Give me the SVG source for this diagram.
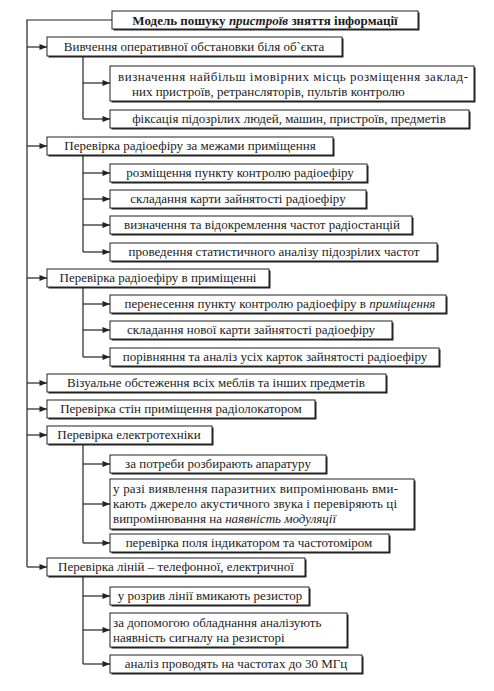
<svg xmlns="http://www.w3.org/2000/svg" width="494" height="691" viewBox="0 0 494 691">
<style>
.sh{fill:#222}
.bx{fill:#fff;stroke:#222;stroke-width:1}
.t{font-family:"Liberation Serif","Times New Roman",serif;font-size:13px;fill:#1c1c1c}
.c{text-anchor:middle}
.b{font-weight:bold}
.i{font-style:italic}
.ln{fill:none;stroke:#222;stroke-width:1.2}
</style>
<defs>
<marker id="ah" viewBox="0 0 10 8" refX="10" refY="4" markerWidth="9" markerHeight="6" markerUnits="userSpaceOnUse" orient="auto">
<path d="M0,0 L10,4 L0,8 Z" fill="#222"/>
</marker>
</defs>
<rect width="494" height="691" fill="#fff"/>
<g id="connectors">
<path class="ln" d="M112,20 H27 V567"/>
<path class="ln" d="M27,47 H47" marker-end="url(#ah)"/>
<path class="ln" d="M27,146 H47" marker-end="url(#ah)"/>
<path class="ln" d="M27,278 H47" marker-end="url(#ah)"/>
<path class="ln" d="M27,383 H47" marker-end="url(#ah)"/>
<path class="ln" d="M27,409 H47" marker-end="url(#ah)"/>
<path class="ln" d="M27,435 H47" marker-end="url(#ah)"/>
<path class="ln" d="M27,567 H47" marker-end="url(#ah)"/>
<path class="ln" d="M83,56 V119"/>
<path class="ln" d="M83,83 H110" marker-end="url(#ah)"/>
<path class="ln" d="M83,119 H110" marker-end="url(#ah)"/>
<path class="ln" d="M83,156 V252"/>
<path class="ln" d="M83,173 H110" marker-end="url(#ah)"/>
<path class="ln" d="M83,199 H110" marker-end="url(#ah)"/>
<path class="ln" d="M83,225 H110" marker-end="url(#ah)"/>
<path class="ln" d="M83,252 H110" marker-end="url(#ah)"/>
<path class="ln" d="M83,288 V357"/>
<path class="ln" d="M83,304 H110" marker-end="url(#ah)"/>
<path class="ln" d="M83,330 H110" marker-end="url(#ah)"/>
<path class="ln" d="M83,357 H110" marker-end="url(#ah)"/>
<path class="ln" d="M83,445 V543"/>
<path class="ln" d="M83,464 H110" marker-end="url(#ah)"/>
<path class="ln" d="M83,504 H110" marker-end="url(#ah)"/>
<path class="ln" d="M83,543 H110" marker-end="url(#ah)"/>
<path class="ln" d="M83,577 V664"/>
<path class="ln" d="M83,596 H110" marker-end="url(#ah)"/>
<path class="ln" d="M83,630 H110" marker-end="url(#ah)"/>
<path class="ln" d="M83,664 H110" marker-end="url(#ah)"/>
</g>
<g id="title">
<rect class="sh" x="113.5" y="12.5" width="306" height="18"/>
<rect class="bx" x="112" y="11" width="306" height="18"/>
<text class="t c b" x="265" y="25">Модель пошуку <tspan class="i">пристроїв</tspan> зняття інформації</text>
</g>
<g id="n1">
<rect class="sh" x="48.5" y="38.5" width="295" height="19"/>
<rect class="bx" x="47" y="37" width="295" height="19"/>
<text class="t c" x="194" y="51">Вивчення оперативної обстановки біля об`єкта</text>
</g>
<g id="n1a">
<rect class="sh" x="111.5" y="67.5" width="364" height="35"/>
<rect class="bx" x="110" y="66" width="364" height="35"/>
<text class="t" x="118" y="81" textLength="350" lengthAdjust="spacing">визначення найбільш імовірних місць розміщення заклад-</text>
<text class="t" x="132" y="96">них пристроїв, ретрансляторів, пультів контролю</text>
</g>
<g id="n1b">
<rect class="sh" x="111.5" y="111.5" width="359" height="18"/>
<rect class="bx" x="110" y="110" width="359" height="18"/>
<text class="t c" x="289" y="123">фіксація підозрілих людей, машин, пристроїв, предметів</text>
</g>
<g id="n2">
<rect class="sh" x="48.5" y="138.5" width="286" height="18"/>
<rect class="bx" x="47" y="137" width="286" height="18"/>
<text class="t c" x="190" y="150">Перевірка радіоефіру за межами приміщення</text>
</g>
<g id="n2a">
<rect class="sh" x="111.5" y="165.5" width="257" height="18"/>
<rect class="bx" x="110" y="164" width="257" height="18"/>
<text class="t c" x="240" y="177">розміщення пункту контролю радіоефіру</text>
</g>
<g id="n2b">
<rect class="sh" x="111.5" y="191.5" width="256" height="18"/>
<rect class="bx" x="110" y="190" width="256" height="18"/>
<text class="t c" x="238" y="203">складання карти зайнятості радіоефіру</text>
</g>
<g id="n2c">
<rect class="sh" x="111.5" y="217.5" width="302" height="18"/>
<rect class="bx" x="110" y="216" width="302" height="18"/>
<text class="t c" x="262" y="229">визначення та відокремлення частот радіостанцій</text>
</g>
<g id="n2d">
<rect class="sh" x="111.5" y="244.5" width="327" height="18"/>
<rect class="bx" x="110" y="243" width="327" height="18"/>
<text class="t c" x="274" y="256">проведення статистичного аналізу підозрілих частот</text>
</g>
<g id="n3">
<rect class="sh" x="48.5" y="270.5" width="222" height="18"/>
<rect class="bx" x="47" y="269" width="222" height="18"/>
<text class="t c" x="158" y="282">Перевірка радіоефіру в приміщенні</text>
</g>
<g id="n3a">
<rect class="sh" x="111.5" y="296.5" width="336" height="18"/>
<rect class="bx" x="110" y="295" width="336" height="18"/>
<text class="t c" x="280" y="308">перенесення пункту контролю радіоефіру в <tspan class="i">приміщення</tspan></text>
</g>
<g id="n3b">
<rect class="sh" x="111.5" y="322.5" width="282" height="18"/>
<rect class="bx" x="110" y="321" width="282" height="18"/>
<text class="t c" x="251" y="334">складання нової карти зайнятості радіоефіру</text>
</g>
<g id="n3c">
<rect class="sh" x="111.5" y="349.5" width="329" height="18"/>
<rect class="bx" x="110" y="348" width="329" height="18"/>
<text class="t c" x="275" y="361">порівняння та аналіз усіх карток зайнятості радіоефіру</text>
</g>
<g id="n4">
<rect class="sh" x="48.5" y="375.5" width="339" height="18"/>
<rect class="bx" x="47" y="374" width="339" height="18"/>
<text class="t c" x="216" y="387">Візуальне обстеження всіх меблів та інших предметів</text>
</g>
<g id="n5">
<rect class="sh" x="48.5" y="401.5" width="268" height="18"/>
<rect class="bx" x="47" y="400" width="268" height="18"/>
<text class="t c" x="181" y="413">Перевірка стін приміщення радіолокатором</text>
</g>
<g id="n6">
<rect class="sh" x="48.5" y="427.5" width="165" height="18"/>
<rect class="bx" x="47" y="426" width="165" height="18"/>
<text class="t c" x="129" y="439">Перевірка електротехніки</text>
</g>
<g id="n6a">
<rect class="sh" x="111.5" y="456.5" width="216" height="18"/>
<rect class="bx" x="110" y="455" width="216" height="18"/>
<text class="t c" x="218" y="468">за потреби розбирають апаратуру</text>
</g>
<g id="n6b">
<rect class="sh" x="111.5" y="480.5" width="304" height="50"/>
<rect class="bx" x="110" y="479" width="304" height="50"/>
<text class="t" x="113" y="493" textLength="285" lengthAdjust="spacing">у разі виявлення паразитних випромінювань вми-</text>
<text class="t" x="113" y="508" textLength="284" lengthAdjust="spacing">кають джерело акустичного звука і перевіряють ці</text>
<text class="t" x="113" y="523">випромінювання на <tspan class="i">наявність модуляції</tspan></text>
</g>
<g id="n6c">
<rect class="sh" x="111.5" y="535.5" width="279" height="18"/>
<rect class="bx" x="110" y="534" width="279" height="18"/>
<text class="t c" x="249" y="547">перевірка поля індикатором та частотоміром</text>
</g>
<g id="n7">
<rect class="sh" x="48.5" y="559.5" width="258" height="18"/>
<rect class="bx" x="47" y="558" width="258" height="18"/>
<text class="t c" x="176" y="571">Перевірка ліній – телефонної, електричної</text>
</g>
<g id="n7a">
<rect class="sh" x="111.5" y="588.5" width="199" height="18"/>
<rect class="bx" x="110" y="587" width="199" height="18"/>
<text class="t c" x="210" y="600">у розрив лінії вмикають резистор</text>
</g>
<g id="n7b">
<rect class="sh" x="111.5" y="614.5" width="237" height="34"/>
<rect class="bx" x="110" y="613" width="237" height="34"/>
<text class="t" x="113" y="627">за допомогою обладнання аналізують</text>
<text class="t" x="113" y="642">наявність сигналу на резисторі</text>
</g>
<g id="n7c">
<rect class="sh" x="111.5" y="656.5" width="252" height="18"/>
<rect class="bx" x="110" y="655" width="252" height="18"/>
<text class="t c" x="236" y="668">аналіз проводять на частотах до 30 МГц</text>
</g>
</svg>
